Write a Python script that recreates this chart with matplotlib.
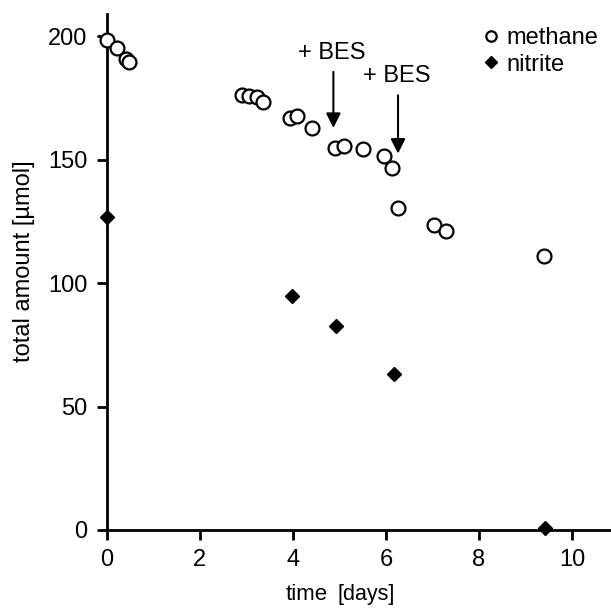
import matplotlib.pyplot as plt

plt.rcParams['font.family'] = ['Liberation Sans', 'DejaVu Sans']

# methane measurements
methane_t = [0.0, 0.22, 0.42, 0.47, 2.90, 3.06, 3.22, 3.35, 3.94, 4.08, 4.40,
             4.90, 5.10, 5.50, 5.96, 6.14, 6.25, 7.03, 7.29, 9.40]
methane_v = [198.4, 195.0, 190.8, 189.4, 176.1, 175.7, 175.2, 173.2, 167.0, 167.8,
             162.6, 154.8, 155.6, 154.1, 151.3, 146.7, 130.5, 123.7, 120.9, 111.0]

# nitrite measurements
nitrite_t = [0.0, 3.98, 4.92, 6.17, 9.42]
nitrite_v = [126.8, 94.7, 82.5, 63.0, 0.8]

# BES additions: (day, arrow start, arrow tip, label height)
bes_t = [4.87, 6.26]
bes_from = [185.5, 176.0]
bes_to = [162.8, 152.4]
bes_label = [193.0, 184.0]

fig = plt.figure(figsize=(6.11, 6.13), dpi=100)
ax = fig.add_axes([0.175, 0.1354, 0.825, 0.842])

ax.plot(methane_t, methane_v, 'o', mfc='white', mec='black', mew=1.6, ms=10,
        clip_on=False, zorder=3, label='methane')
ax.plot(nitrite_t, nitrite_v, 'D', color='black', ms=7.5,
        clip_on=False, zorder=3, label='nitrite')

for t, y0, y1, yl in zip(bes_t, bes_from, bes_to, bes_label):
    ax.annotate('', xy=(t, y1), xytext=(t, y0),
                arrowprops=dict(arrowstyle='-|>', color='black', lw=1.5,
                                mutation_scale=22, shrinkA=0, shrinkB=0))
    ax.text(t - 0.03, yl, '+ BES', ha='center', va='center', fontsize=17)

ax.set_xlim(0, 10.84)
ax.set_ylim(0, 209)
ax.set_xticks([0, 2, 4, 6, 8, 10])
ax.set_yticks([0, 50, 100, 150, 200])
ax.tick_params(labelsize=17, width=2, length=7, direction='out', pad=7)
for s in ['top', 'right']:
    ax.spines[s].set_visible(False)
for s in ['left', 'bottom']:
    ax.spines[s].set_linewidth(2)

fig.text(0.040, 0.574, 'total amount [µmol]', rotation=90, ha='center', va='center',
         fontsize=17)
fig.text(0.536, 0.021, 'time', ha='right', va='baseline', fontsize=16)
fig.text(0.552, 0.021, '[days]', ha='left', va='baseline', fontsize=15.5)

leg = ax.legend(loc='upper right', bbox_to_anchor=(1.0, 1.0), frameon=False,
                fontsize=17, handlelength=0.7, handletextpad=0.3, labelspacing=0.2,
                borderaxespad=0.15, markerscale=0.75)

fig.savefig('out.png', dpi=100)
